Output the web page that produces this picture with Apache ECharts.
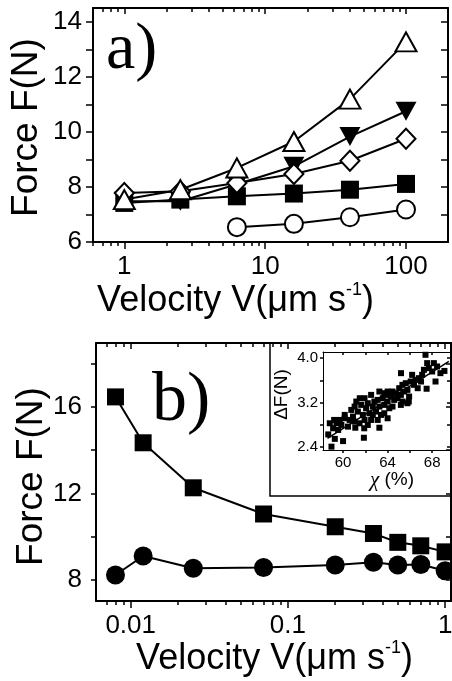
<!DOCTYPE html>
<html>
<head>
<meta charset="utf-8">
<script src="https://cdn.jsdelivr.net/npm/echarts@6/dist/echarts.min.js"></script>
<style>
html, body { margin: 0; padding: 0; background: #fff; }
#chart { width: 452px; height: 681px; }
</style>
</head>
<body>
<div id="chart"></div>
<script>
// panel a) force vs velocity, five samples
const velocityA = [1, 2.5, 6.3, 16, 40, 100]
const openTriangle = [7.54, 7.9, 8.69, 9.65, 11.19, 13.27]
const filledTriangle = [7.48, 7.48, 8.1, 8.75, 9.83, 10.75]
const openDiamond = [7.78, 7.84, 8.14, 8.47, 8.95, 9.75]
const filledSquare = [7.42, 7.54, 7.66, 7.76, 7.9, 8.11]
const velocityCircle = [6.3, 16, 40, 100]
const openCircle = [6.54, 6.66, 6.9, 7.18]

// panel b)
const velocityB = [0.008, 0.012, 0.025, 0.07, 0.2, 0.35, 0.5, 0.7, 1.0]
const squareB = [16.46, 14.34, 12.26, 11.05, 10.46, 10.15, 9.74, 9.58, 9.3]
const circleB = [8.23, 9.11, 8.54, 8.58, 8.69, 8.82, 8.69, 8.72, 8.43]

// inset: deltaF vs chi
const chiX = [67.4, 65.2, 67.55, 68.15, 68.74, 69.1, 68.3, 67.5, 66.7, 66.2,
  61.5, 64.0, 63.26, 61.87, 60.0, 59.26, 58.96, 58.67, 59.2, 60.15,
  61.1, 61.9, 65.9, 65.33, 67.0,
  60.74, 61.04, 61.33, 60.89, 61.63, 61.78, 62.07, 62.22, 62.37, 62.52,
  62.67, 62.81, 62.96, 63.11, 63.26, 63.41, 63.56, 63.7, 63.85, 64.0,
  64.15, 64.3, 64.44, 64.59, 64.74, 64.89, 65.04, 65.19, 65.33, 65.48,
  65.63, 65.78, 65.93, 66.07, 66.37, 66.52, 66.81, 67.1, 67.26, 67.7,
  68.0, 68.44,
  58.81, 59.11, 59.41, 59.7, 59.56, 59.85, 60.15, 60.44, 60.59, 61.04,
  61.48, 61.93, 62.22, 62.67, 63.11, 63.7, 64.44, 65.19, 65.78, 61.19,
  61.93, 62.52, 63.26, 64.0, 63.7]
const deltaF = [4.06, 3.73, 3.91, 3.91, 3.73, 3.77, 3.58, 3.45, 3.46, 3.7,
  3.28, 2.92, 2.75, 2.57, 2.51, 2.55, 2.41, 2.63, 2.89, 2.98,
  2.75, 2.74, 3.22, 3.22, 3.58,
  3.07, 3.13, 3.04, 2.95, 3.16, 2.98, 3.1, 3.19, 3.01, 2.89,
  3.13, 3.22, 3.04, 3.25, 3.13, 2.98, 3.28, 3.16, 3.34, 3.22,
  3.1, 3.31, 3.4, 3.25, 3.37, 3.28, 3.46, 3.34, 3.52, 3.4,
  3.55, 3.43, 3.31, 3.58, 3.52, 3.61, 3.64, 3.7, 3.79, 3.82,
  3.76, 3.85,
  2.83, 2.74, 2.83, 2.89, 2.71, 2.8, 2.92, 2.77, 2.89, 2.86,
  2.83, 2.89, 2.8, 2.98, 2.89, 3.01, 3.13, 3.16, 3.19, 3.22,
  3.28, 3.34, 3.4, 3.4, 3.37]
const fitX = [58.6, 69.5]
const fitY = [2.56, 3.94]

// ticks and labels
const majorA = [1, 10, 100]
const minorA = [0.6, 0.7, 0.8, 0.9, 2, 3, 4, 5, 6, 7, 8, 9, 20, 30, 40, 50, 60, 70, 80, 90]
const yTicksA = [6, 7, 8, 9, 10, 11, 12, 13, 14]
const yLabelsA = [6, 8, 10, 12, 14]
const majorB = [0.01, 0.1, 1]
const minorB = [0.007, 0.008, 0.009, 0.02, 0.03, 0.04, 0.05, 0.06, 0.07, 0.08, 0.09,
  0.2, 0.3, 0.4, 0.5, 0.6, 0.7, 0.8, 0.9]
const yTicksB = [8, 10, 12, 14, 16, 18]
const yLabelsB = [8, 12, 16]
const insetXTicks = [60, 62, 64, 66, 68]
const insetXLabels = [60, 64, 68]
const insetYTicks = [2.4, 2.8, 3.2, 3.6, 4.0]
const insetYLabels = [2.4, 3.2, 4.0]

const black = '#000'
const sans = 'Liberation Sans'

const xAxis = (grid, pos, type, min, max, ticks, len, labels, showLine, lw) => ({
  type, gridIndex: grid, position: pos, min, max,
  axisLine: { show: showLine, lineStyle: { color: black, width: lw } },
  axisTick: { show: true, inside: pos === 'top', length: len, customValues: ticks, lineStyle: { color: black, width: 1.5 } },
  axisLabel: labels ? {
    show: true, customValues: labels, margin: grid === 2 ? 5 : 12,
    color: black, fontFamily: sans, fontSize: grid === 2 ? 15 : 26,
    formatter: v => String(+(+v).toPrecision(6))
  } : { show: false },
  splitLine: { show: false }
})

const yAxis = (grid, pos, min, max, ticks, len, labels, margin, lw, fmt) => ({
  type: 'value', gridIndex: grid, position: pos, min, max,
  axisLine: { show: true, lineStyle: { color: black, width: lw } },
  axisTick: { show: true, inside: pos === 'right', length: len, customValues: ticks, lineStyle: { color: black, width: 1.5 } },
  axisLabel: labels ? {
    show: true, customValues: labels, margin,
    color: black, fontFamily: sans, fontSize: grid === 2 ? 15 : 26,
    formatter: fmt || (v => String(v))
  } : { show: false },
  splitLine: { show: false }
})

const lineSeries = (xs, ys, symbol, size, filled, rotate, xi, yi) => ({
  type: 'line', xAxisIndex: xi, yAxisIndex: yi,
  data: xs.map((x, i) => [x, ys[i]]),
  symbol, symbolSize: size, symbolRotate: rotate,
  showAllSymbol: true,
  lineStyle: { color: black, width: 2 },
  itemStyle: { color: filled ? black : '#fff', borderColor: black, borderWidth: filled ? 0 : 2, opacity: 1 },
  emphasis: { disabled: true }
})

const velocityLabel = {
  t: { fontSize: 36, fontFamily: sans, fill: black, lineHeight: 40 },
  s: { fontSize: 18, fontFamily: sans, fill: black, lineHeight: 20, verticalAlign: 'top' }
}

const option = {
  animation: false,
  grid: [
    { left: 93, top: 8, width: 355, height: 234, outerBoundsMode: 'none' },
    { left: 96, top: 343, width: 355, height: 258, outerBoundsMode: 'none' },
    { left: 323, top: 352, width: 127, height: 98, outerBoundsMode: 'none' }
  ],
  xAxis: [
    xAxis(0, 'bottom', 'log', 0.5995, 198.7, majorA, 7, majorA, true, 2),
    xAxis(0, 'bottom', 'log', 0.5995, 198.7, minorA, 4, null, false, 2),
    xAxis(0, 'top', 'log', 0.5995, 198.7, majorA, 6, null, true, 2),
    xAxis(0, 'top', 'log', 0.5995, 198.7, minorA, 4, null, false, 2),
    xAxis(1, 'bottom', 'log', 0.006015, 1.09, majorB, 7, majorB, true, 2),
    xAxis(1, 'bottom', 'log', 0.006015, 1.09, minorB, 4, null, false, 2),
    xAxis(1, 'top', 'log', 0.006015, 1.09, majorB, 6, null, true, 2),
    xAxis(1, 'top', 'log', 0.006015, 1.09, minorB, 4, null, false, 2),
    xAxis(2, 'bottom', 'value', 58.2, 69.6, insetXTicks, 3, insetXLabels, true, 1),
    xAxis(2, 'top', 'value', 58.2, 69.6, insetXTicks, 3, null, true, 1)
  ],
  yAxis: [
    yAxis(0, 'left', 6, 14.5, yTicksA, 7, yLabelsA, 11, 2),
    yAxis(0, 'right', 6, 14.5, yTicksA, 7, null, 0, 2),
    yAxis(1, 'left', 7.03, 18.95, yTicksB, 5, yLabelsB, 14, 2),
    yAxis(1, 'right', 7.03, 18.95, yTicksB, 5, null, 0, 2),
    yAxis(2, 'left', 2.35, 4.11, insetYTicks, 3, insetYLabels, 5, 1, v => (+v).toFixed(1)),
    yAxis(2, 'right', 2.35, 4.11, insetYTicks, 3, null, 0, 1)
  ],
  series: [
    lineSeries(velocityA, filledSquare, 'rect', 18, true, 0, 0, 0),
    lineSeries(velocityA, filledTriangle, 'triangle', [21, 19], true, 180, 0, 0),
    lineSeries(velocityA, openDiamond, 'diamond', [19, 20], false, 0, 0, 0),
    lineSeries(velocityA, openTriangle, 'triangle', [21, 19], false, 0, 0, 0),
    lineSeries(velocityCircle, openCircle, 'circle', 18, false, 0, 0, 0),
    lineSeries(velocityB, squareB, 'rect', 17, true, 0, 4, 2),
    lineSeries(velocityB, circleB, 'circle', 19, true, 0, 4, 2),
    {
      type: 'scatter', xAxisIndex: 8, yAxisIndex: 4,
      data: chiX.map((x, i) => [x, deltaF[i]]),
      symbol: 'rect', symbolSize: 6,
      itemStyle: { color: black, opacity: 1 },
      emphasis: { disabled: true }
    },
    {
      type: 'line', xAxisIndex: 8, yAxisIndex: 4,
      data: fitX.map((x, i) => [x, fitY[i]]),
      symbol: 'none', lineStyle: { color: black, width: 1.5 }
    }
  ],
  graphic: { elements: [
    { type: 'rect', z: -1, silent: true,
      shape: { x: 270, y: 343, width: 200, height: 153 },
      style: { fill: '#fff', stroke: black, lineWidth: 1.5 } },
    { type: 'text', x: 106, y: 51,
      style: { text: 'a)', fontFamily: 'Liberation Serif', fontSize: 66, fill: black, align: 'left', verticalAlign: 'middle' } },
    { type: 'text', x: 152, y: 402,
      style: { text: 'b)', fontFamily: 'Liberation Serif', fontSize: 70, fill: black, align: 'left', verticalAlign: 'middle' } },
    { type: 'text', x: 27, y: 127.5, rotation: Math.PI / 2,
      style: { text: 'Force F(N)', fontFamily: sans, fontSize: 37, fill: black, align: 'center', verticalAlign: 'middle' } },
    { type: 'text', x: 31.5, y: 476.5, rotation: Math.PI / 2,
      style: { text: 'Force F(N)', fontFamily: sans, fontSize: 37, fill: black, align: 'center', verticalAlign: 'middle' } },
    { type: 'text', x: 235.5, y: 301,
      style: { text: '{t|Velocity V(μm s}{s|-1}{t|)}', rich: velocityLabel, align: 'center', verticalAlign: 'middle' } },
    { type: 'text', x: 274.5, y: 659,
      style: { text: '{t|Velocity V(μm s}{s|-1}{t|)}', rich: velocityLabel, align: 'center', verticalAlign: 'middle' } },
    { type: 'text', x: 281.5, y: 394.5, rotation: Math.PI / 2,
      style: { text: 'ΔF(N)', fontFamily: sans, fontSize: 19, fill: black, align: 'center', verticalAlign: 'middle' } },
    { type: 'text', x: 392, y: 480,
      style: { text: '{c|χ}{p| (%)}', align: 'center', verticalAlign: 'middle',
        rich: {
          c: { fontFamily: 'Liberation Serif', fontStyle: 'italic', fontSize: 21, fill: black },
          p: { fontFamily: sans, fontSize: 19, fill: black }
        } } }
  ] }
}

const chart = echarts.init(document.getElementById('chart'))
chart.setOption(option)
window.addEventListener('resize', () => chart.resize())
</script>
</body>
</html>
